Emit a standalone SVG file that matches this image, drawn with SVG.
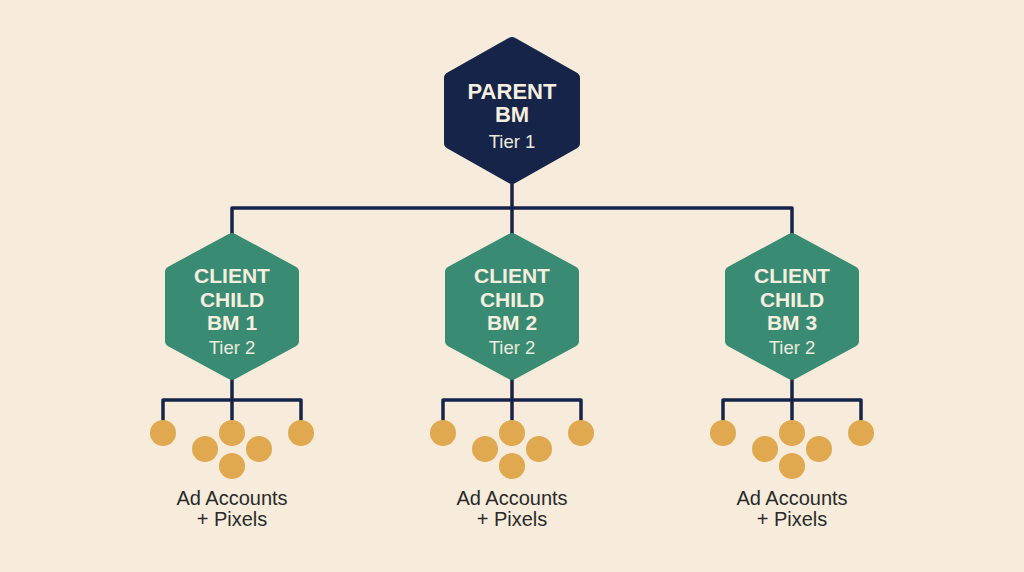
<svg xmlns="http://www.w3.org/2000/svg" width="1024" height="572" viewBox="0 0 1024 572">
  <style>
    .hex-parent { fill: #17244A; stroke: #17244A; stroke-width: 12; stroke-linejoin: round; }
    .hex-child { fill: #3A8B73; stroke: #3A8B73; stroke-width: 12; stroke-linejoin: round; }
    .title { font-family: "Liberation Sans", Arial, sans-serif; font-weight: bold; fill: #F6EEDF; text-anchor: middle; }
    .tier { font-family: "Liberation Sans", Arial, sans-serif; fill: #EDEBDD; text-anchor: middle; font-size: 18.5px; }
    .label { font-family: "Liberation Sans", Arial, sans-serif; fill: #2A2A2A; text-anchor: middle; font-size: 20px; }
    .conn { fill: none; stroke: #17244A; stroke-width: 3.5; stroke-linejoin: round; stroke-linecap: butt; }
    .acct { fill: #E0A84F; }
  </style>
  <defs>
    <polygon id="childHex" points="0,6 61,39 61,108 0,141 -61,108 -61,39"/>
    <g id="accts">
      <circle cx="-69" cy="433" r="13"/>
      <circle cx="0" cy="433" r="13"/>
      <circle cx="69" cy="433" r="13"/>
      <circle cx="-27" cy="449" r="13"/>
      <circle cx="27" cy="449" r="13"/>
      <circle cx="0" cy="466" r="13"/>
    </g>
  </defs>
  <rect width="1024" height="572" fill="#F7ECDB"/>

  <g id="connectors">
    <path class="conn" d="M512 178 V208"/>
    <path class="conn" d="M232 238 V208 H792 V238"/>
    <path class="conn" d="M512 208 V238"/>
    <path class="conn" d="M232 374 V400"/>
    <path class="conn" d="M163 421 V400 H301 V421"/>
    <path class="conn" d="M232 400 V421"/>
    <path class="conn" d="M512 374 V400"/>
    <path class="conn" d="M443 421 V400 H581 V421"/>
    <path class="conn" d="M512 400 V421"/>
    <path class="conn" d="M792 374 V400"/>
    <path class="conn" d="M723 421 V400 H861 V421"/>
    <path class="conn" d="M792 400 V421"/>
  </g>

  <g id="parent-bm">
    <polygon class="hex-parent" points="512,43 574,78 574,143 512,178 450,143 450,78"/>
    <text class="title" x="512" y="99" font-size="22">PARENT</text>
    <text class="title" x="512" y="122" font-size="22">BM</text>
    <text class="tier" x="512" y="148">Tier 1</text>
  </g>

  <g id="client-child-bm-1">
    <use href="#childHex" class="hex-child" transform="translate(232,233)"/>
    <text class="title" x="232" y="283" font-size="21">CLIENT</text>
    <text class="title" x="232" y="307" font-size="21">CHILD</text>
    <text class="title" x="232" y="330" font-size="21">BM 1</text>
    <text class="tier" x="232" y="354">Tier 2</text>
  </g>

  <g id="client-child-bm-2">
    <use href="#childHex" class="hex-child" transform="translate(512,233)"/>
    <text class="title" x="512" y="283" font-size="21">CLIENT</text>
    <text class="title" x="512" y="307" font-size="21">CHILD</text>
    <text class="title" x="512" y="330" font-size="21">BM 2</text>
    <text class="tier" x="512" y="354">Tier 2</text>
  </g>

  <g id="client-child-bm-3">
    <use href="#childHex" class="hex-child" transform="translate(792,233)"/>
    <text class="title" x="792" y="283" font-size="21">CLIENT</text>
    <text class="title" x="792" y="307" font-size="21">CHILD</text>
    <text class="title" x="792" y="330" font-size="21">BM 3</text>
    <text class="tier" x="792" y="354">Tier 2</text>
  </g>

  <g id="accounts-1">
    <use href="#accts" class="acct" transform="translate(232,0)"/>
    <text class="label" x="232" y="505">Ad Accounts</text>
    <text class="label" x="232" y="526">+ Pixels</text>
  </g>

  <g id="accounts-2">
    <use href="#accts" class="acct" transform="translate(512,0)"/>
    <text class="label" x="512" y="505">Ad Accounts</text>
    <text class="label" x="512" y="526">+ Pixels</text>
  </g>

  <g id="accounts-3">
    <use href="#accts" class="acct" transform="translate(792,0)"/>
    <text class="label" x="792" y="505">Ad Accounts</text>
    <text class="label" x="792" y="526">+ Pixels</text>
  </g>
</svg>
